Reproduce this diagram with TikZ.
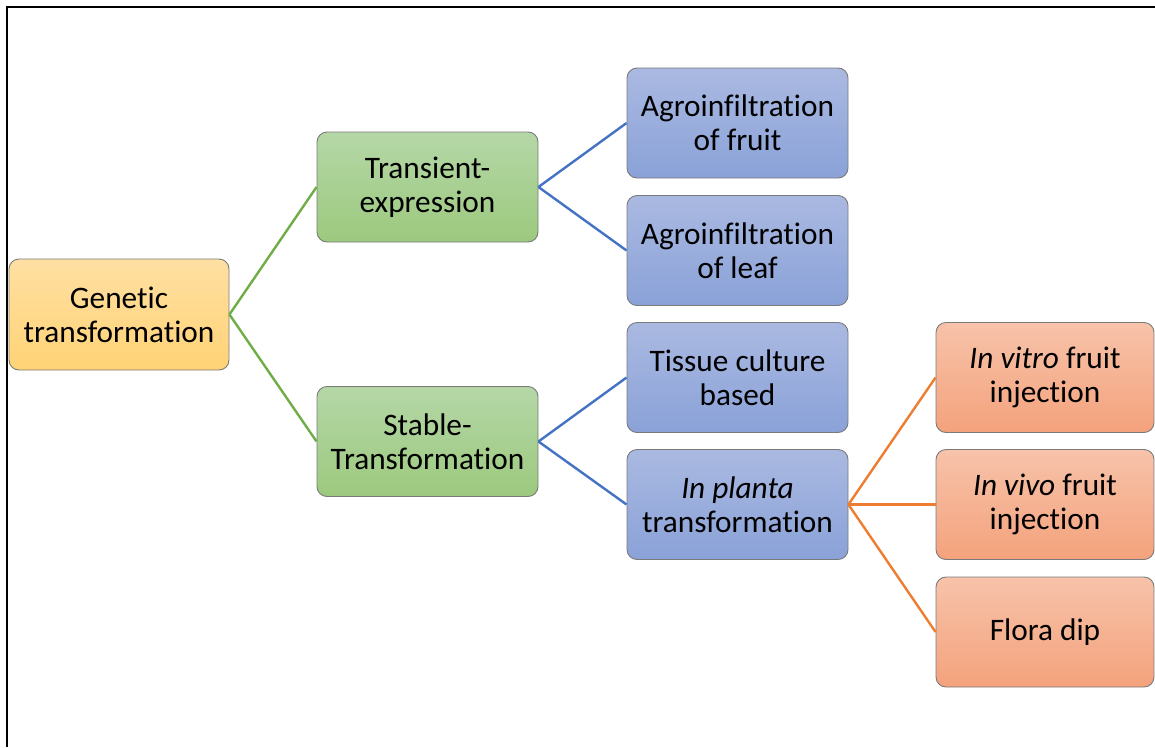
\documentclass[tikz,border=0pt]{standalone}
\usepackage{fontspec}
\setmainfont[Ligatures=NoCommon]{Carlito}
\definecolor{goldT}{HTML}{FFE0A3}
\definecolor{goldB}{HTML}{FFD275}
\definecolor{greenT}{HTML}{B5D7A7}
\definecolor{greenB}{HTML}{9CC97E}
\definecolor{blueT}{HTML}{AAB9E1}
\definecolor{blueB}{HTML}{8AA2D8}
\definecolor{orangeT}{HTML}{F7C3AA}
\definecolor{orangeB}{HTML}{F4A27C}
\definecolor{lineG}{HTML}{70AD47}
\definecolor{lineB}{HTML}{4472C4}
\definecolor{lineO}{HTML}{ED7D31}
\definecolor{edgeC}{HTML}{7A7A7A}
\tikzset{
  box/.style={rounded corners=10pt, draw=edgeC, line width=0.9pt,
    minimum width=221pt, minimum height=110pt, align=center,
    inner sep=0pt, font=\fontsize{31.3}{34}\selectfont},
  goldbox/.style={box, top color=goldT, bottom color=goldB},
  greenbox/.style={box, top color=greenT, bottom color=greenB},
  bluebox/.style={box, top color=blueT, bottom color=blueB},
  orangebox/.style={box, top color=orangeT, bottom color=orangeB, minimum width=218pt},
  conn/.style={line width=2.4pt},
}
\begin{document}
\begin{tikzpicture}[x=1pt,y=-1pt]
\useasboundingbox (0,0) rectangle (1155,747);
\draw[line width=2.2pt] (7,747) -- (7,7) -- (1155,7);
\node[goldbox, minimum width=220pt, minimum height=111pt] (g) at (119,314.5) {Genetic\\transformation};
\node[greenbox] (t) at (427.5,187) {Transient-\\expression};
\node[greenbox] (s) at (427.5,441.5) {Stable-\\Transformation};
\node[bluebox] (af) at (737.5,123) {Agroinfiltration\\of fruit};
\node[bluebox] (al) at (737.5,250.5) {Agroinfiltration\\of leaf};
\node[bluebox] (tc) at (737.5,377.5) {Tissue culture\\based};
\node[bluebox] (ip) at (737.5,504.5) {\textit{In planta}\\transformation};
\node[orangebox] (iv) at (1045,377.5) {\textit{In vitro} fruit\\injection};
\node[orangebox] (ivv) at (1045,504.5) {\textit{In vivo} fruit\\injection};
\node[orangebox] (fd) at (1045,632) {Flora dip};
\draw[conn, lineG] (g.east) -- (t.west);
\draw[conn, lineG] (g.east) -- (s.west);
\draw[conn, lineB] (t.east) -- (af.west);
\draw[conn, lineB] (t.east) -- (al.west);
\draw[conn, lineB] (s.east) -- (tc.west);
\draw[conn, lineB] (s.east) -- (ip.west);
\draw[conn, lineO] (ip.east) -- (iv.west);
\draw[conn, lineO] (ip.east) -- (ivv.west);
\draw[conn, lineO] (ip.east) -- (fd.west);
\end{tikzpicture}
\end{document}
